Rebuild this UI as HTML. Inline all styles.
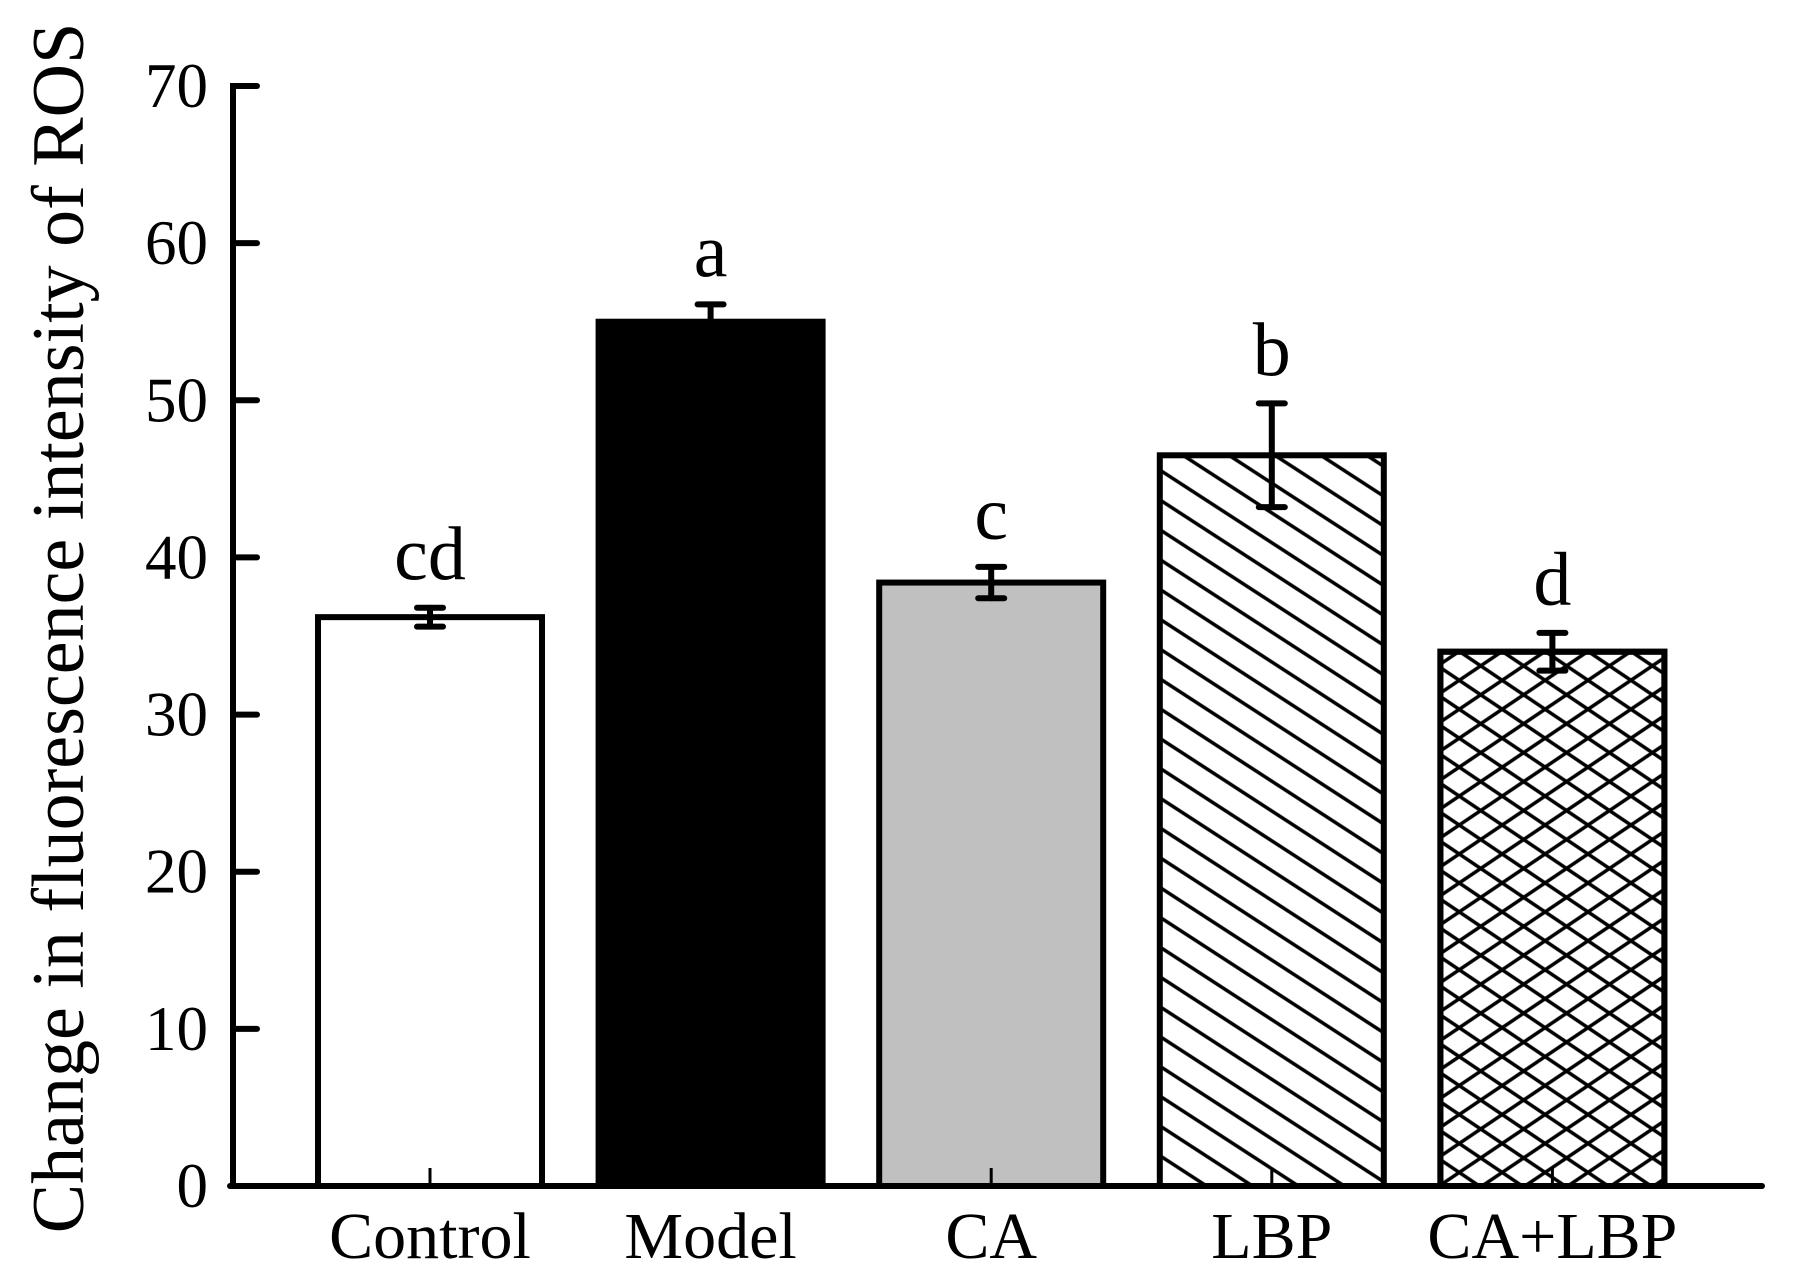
<!DOCTYPE html>
<html><head><meta charset="utf-8"><style>
html,body{margin:0;padding:0;background:#fff;}
svg{display:block;}
text{font-family:"Liberation Serif",serif;fill:#000;}
</style></head><body>
<svg id="chart" width="1800" height="1275" viewBox="0 0 1800 1275" xmlns="http://www.w3.org/2000/svg">
<defs>
<pattern id="diag" patternUnits="userSpaceOnUse" width="25" height="25" patternTransform="rotate(33)">
<rect width="25" height="25" fill="#fff"/><line x1="0" y1="12.5" x2="25" y2="12.5" stroke="#000" stroke-width="3.4"/>
</pattern>
<pattern id="cross" patternUnits="userSpaceOnUse" width="24" height="24" patternTransform="rotate(34)">
<rect width="24" height="24" fill="#fff"/><line x1="0" y1="12" x2="24" y2="12" stroke="#000" stroke-width="3.6"/>
</pattern>
<pattern id="cross2" patternUnits="userSpaceOnUse" width="24" height="24" patternTransform="rotate(-34)">
<line x1="0" y1="12" x2="24" y2="12" stroke="#000" stroke-width="3.6"/>
</pattern>
</defs>
<g id="plot"></g>
</svg>
<script>
const categories = ["Control","Model","CA","LBP","CA+LBP"];
const values = [36.2, 55.0, 38.4, 46.5, 34.0];
const errors = [0.6, 1.1, 1.0, 3.3, 1.2];
const sigLetters = ["cd","a","c","b","d"];
const yTicks = [0,10,20,30,40,50,60,70];

const NS = "http://www.w3.org/2000/svg";
const g = document.getElementById("plot");
const axX = 233, y0 = 1186, yTop = 86, yMax = 70, axEnd = 1762;
const step = 280.6, firstC = 430, barW = 224;
function yS(v){ return y0 - (v / yMax) * (y0 - yTop); }
function xS(i){ return firstC + i * step; }
function mk(tag, attrs, parent){ const e = document.createElementNS(NS, tag); for (const k in attrs) e.setAttribute(k, attrs[k]); (parent||g).appendChild(e); return e; }

const fills = ["#fff","#000","#c0c0c0","url(#diag)","url(#cross)"];
categories.forEach((c,i)=>{
  const cx = xS(i), top = yS(values[i]);
  const r = mk("rect",{x:cx-barW/2,y:top,width:barW,height:y0-top,fill:fills[i],stroke:"#000","stroke-width":6});
  
  
  if (i===4){
    const r2 = mk("rect",{x:cx-barW/2,y:top,width:barW,height:y0-top,fill:"url(#cross2)",stroke:"#000","stroke-width":6});
    
    
  }
  const et = yS(values[i]+errors[i]), eb = yS(values[i]-errors[i]);
  const eg = mk("g",{stroke:"#000","stroke-width":6,"stroke-linecap":"round"});
  
  
  mk("line",{x1:cx,y1:et,x2:cx,y2:i===1?top:eb},eg);
  mk("line",{x1:cx-13,y1:et,x2:cx+13,y2:et},eg);
  if (i!==1) mk("line",{x1:cx-13,y1:eb,x2:cx+13,y2:eb},eg);
  const stub = mk("line",{x1:cx,y1:y0-18,x2:cx,y2:y0,stroke:"#000","stroke-width":3});
  
  
  const t = mk("text",{x:cx,y:et-28,"text-anchor":"middle","font-size":76});
  t.textContent = sigLetters[i];
  
  
  const xl = mk("text",{x:cx,y:1258,"text-anchor":"middle","font-size":66});
  xl.textContent = c;
  
  
});

const ya = mk("line",{x1:axX,y1:yTop-3,x2:axX,y2:y0+3,stroke:"#000","stroke-width":6});


const xa = mk("line",{x1:axX-3,y1:y0,x2:axEnd,y2:y0,stroke:"#000","stroke-width":6,"stroke-linecap":"round"});


yTicks.forEach(v=>{
  const y = yS(v);
  const tk = mk("line",{x1:axX,y1:y,x2:axX+24,y2:y,stroke:"#000","stroke-width":6,"stroke-linecap":"round"});
  
  
  const tl = mk("text",{x:208,y:y+21,"text-anchor":"end","font-size":63});
  tl.textContent = v;
  
  
});
const yt = mk("text",{x:0,y:0,"text-anchor":"middle","font-size":74,transform:"translate(83,628) rotate(-90)"});
yt.textContent = "Change in fluorescence intensity of ROS";


</script>
</body></html>
